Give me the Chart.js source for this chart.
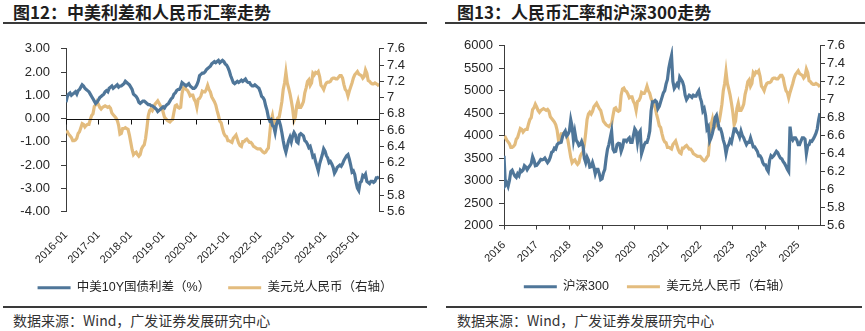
<!DOCTYPE html>
<html>
<head>
<meta charset="utf-8">
<script src="https://cdn.jsdelivr.net/npm/chart.js@4.4.1/dist/chart.umd.min.js"></script>
<style>
  body { margin: 0; background: #fff; width: 865px; height: 331px; position: relative; overflow: hidden; }
  .title { position: absolute; top: 1px; font: bold 17px "Noto Sans CJK SC", sans-serif; color: #1e1e1e; line-height: 22px; white-space: nowrap; }
  .rule { position: absolute; height: 2px; background: #3a3a3a; }
  .src { position: absolute; top: 310px; font: 14px "Noto Sans CJK SC", sans-serif; color: #333; line-height: 20px; white-space: nowrap; }
  .box { position: absolute; top: 30px; }
</style>
</head>
<body>
<div class="title" style="left:13px">图12：中美利差和人民币汇率走势</div>
<div class="rule" style="left:3px;width:424px;top:22px"></div>
<div class="box" style="left:0;width:430px;height:274px"><canvas id="spreadChart"></canvas></div>
<div class="rule" style="left:3px;width:424px;top:306px"></div>
<div class="src" style="left:13px">数据来源：Wind，广发证券发展研究中心</div>

<div class="title" style="left:457px">图13：人民币汇率和沪深300走势</div>
<div class="rule" style="left:445px;width:420px;top:22px"></div>
<div class="box" style="left:430px;width:435px;height:273px"><canvas id="csiChart"></canvas></div>
<div class="rule" style="left:446px;width:416px;top:306px"></div>
<div class="src" style="left:457px">数据来源：Wind，广发证券发展研究中心</div>

<script>
// Half-monthly observations, first point = 2016-01 (start), step = half a month
const startYear = 2016;
const endYear = 2025 + 8 / 12;
const yearTicks = [2016, 2017, 2018, 2019, 2020, 2021, 2022, 2023, 2024, 2025];

// 美元兑人民币
const usdcny = [
  6.57,6.58,6.55,6.53,6.51,6.47,6.47,6.48,6.50,6.56,6.58,6.63,6.68,6.67,6.64,6.66,6.67,6.67,6.73,6.78,6.80,6.89,6.91,6.95,
  6.92,6.88,6.86,6.88,6.89,6.90,6.89,6.88,6.89,6.87,6.81,6.79,6.77,6.75,6.72,6.66,6.55,6.56,6.62,6.62,6.63,6.62,6.61,6.54,
  6.45,6.36,6.30,6.32,6.33,6.30,6.28,6.30,6.37,6.40,6.42,6.50,6.63,6.78,6.84,6.86,6.84,6.87,6.92,6.94,6.96,6.93,6.90,6.88,
  6.82,6.76,6.74,6.72,6.71,6.70,6.72,6.73,6.82,6.90,6.91,6.88,6.87,6.88,7.05,7.12,7.13,7.10,7.09,7.06,7.02,7.03,7.03,6.98,
  6.95,6.88,6.98,6.99,7.02,7.08,7.07,7.07,7.10,7.15,7.10,7.07,7.01,6.98,6.95,6.91,6.84,6.78,6.71,6.69,6.62,6.56,6.53,6.52,
  6.47,6.47,6.46,6.45,6.50,6.52,6.54,6.49,6.44,6.41,6.40,6.46,6.46,6.48,6.49,6.47,6.45,6.45,6.43,6.40,6.39,6.38,6.37,6.37,
  6.37,6.35,6.33,6.32,6.33,6.36,6.38,6.55,6.72,6.78,6.68,6.70,6.72,6.75,6.76,6.85,6.95,7.10,7.18,7.31,7.18,7.12,7.05,6.96,
  6.86,6.72,6.76,6.90,6.96,6.88,6.88,6.91,6.95,7.06,7.12,7.20,7.22,7.15,7.18,7.30,7.28,7.31,7.30,7.32,7.26,7.15,7.13,7.10,
  7.15,7.18,7.19,7.19,7.20,7.23,7.24,7.24,7.23,7.23,7.25,7.27,7.27,7.24,7.16,7.10,7.08,7.02,7.08,7.13,7.18,7.24,7.28,7.30,
  7.32,7.29,7.28,7.27,7.24,7.26,7.34,7.30,7.21,7.20,7.18,7.17,7.17,7.18,7.17,7.16,7.14
];

// 中美10Y国债利差（%）
const spread = [
  0.70,0.95,1.05,1.10,1.00,1.05,1.10,1.15,1.05,1.20,1.25,1.35,1.45,1.40,1.30,1.25,1.20,1.15,1.05,0.95,0.85,0.75,0.65,0.70,
  0.80,0.90,0.95,1.00,1.05,1.15,1.20,1.15,1.30,1.35,1.40,1.30,1.35,1.40,1.45,1.35,1.40,1.40,1.45,1.50,1.60,1.55,1.50,1.45,
  1.35,1.25,1.05,1.00,0.95,0.85,0.70,0.65,0.70,0.75,0.75,0.70,0.65,0.60,0.60,0.55,0.55,0.50,0.45,0.40,0.30,0.35,0.40,0.45,
  0.50,0.45,0.55,0.60,0.65,0.75,0.85,0.90,1.05,1.10,1.20,1.25,1.25,1.35,1.55,1.50,1.45,1.40,1.45,1.50,1.40,1.35,1.30,1.30,
  1.35,1.45,1.60,1.85,1.90,1.95,1.95,2.00,2.10,2.15,2.20,2.25,2.35,2.40,2.45,2.40,2.45,2.50,2.40,2.45,2.50,2.45,2.35,2.30,
  2.20,2.05,1.85,1.70,1.55,1.50,1.55,1.60,1.55,1.60,1.65,1.60,1.65,1.70,1.60,1.55,1.55,1.45,1.40,1.40,1.45,1.40,1.35,1.30,
  1.15,0.95,0.90,0.80,0.55,0.35,0.05,-0.10,-0.05,-0.30,-0.35,-0.60,-0.25,-0.10,-0.10,-0.30,-0.60,-0.95,-1.25,-1.45,-1.20,-0.95,-0.80,-1.00,
  -0.75,-0.60,-0.70,-1.00,-1.05,-0.70,-0.65,-0.70,-0.75,-0.95,-1.00,-1.10,-1.25,-1.20,-1.40,-1.65,-1.60,-1.85,-2.05,-2.25,-1.95,-1.75,-1.55,-1.30,
  -1.40,-1.60,-1.70,-1.90,-1.85,-1.95,-2.10,-2.35,-2.25,-2.10,-2.05,-2.00,-2.05,-1.95,-1.80,-1.70,-1.60,-1.55,-1.75,-2.00,-2.30,-2.25,-2.40,-2.75,
  -3.00,-3.10,-2.75,-2.70,-2.45,-2.50,-2.40,-2.70,-2.75,-2.80,-2.70,-2.70,-2.75,-2.70,-2.55,-2.55,-2.50
];

// 沪深300
const csi300 = [
  3550,2900,2950,2870,3000,3200,3230,3160,3100,3070,3150,3110,3230,3200,3230,3330,3300,3240,3290,3330,3380,3530,3450,3330,
  3340,3380,3420,3470,3460,3470,3500,3450,3400,3440,3520,3630,3650,3720,3700,3800,3830,3840,3850,3980,4050,4100,3990,4030,
  4100,4350,4200,3900,4080,3900,3850,3780,3800,3870,3780,3500,3400,3520,3450,3300,3310,3400,3300,3150,3250,3250,3150,3020,
  3040,3170,3250,3500,3700,3800,3950,4100,3700,3640,3650,3800,3830,3820,3650,3740,3900,3900,3870,3920,3950,3850,3850,4000,
  4150,4100,3850,4050,4100,3600,3700,3800,3850,3850,3950,4100,4550,4750,4750,4780,4750,4600,4650,4750,4850,4950,5000,5150,
  5250,5500,5650,5780,5200,5050,5100,5150,5100,5300,5250,5200,5100,4900,4800,4850,4900,4880,4850,4900,4880,4880,4950,5000,
  4850,4750,4550,4600,4450,4150,4200,3880,3950,4050,4200,4400,4450,4300,4150,4150,4050,3900,3800,3600,3750,3800,3900,3850,
  4000,4150,4150,4080,4050,3970,4100,4000,3950,3870,3800,3850,3850,3950,3850,3750,3750,3700,3650,3550,3550,3500,3400,3350,
  3350,3250,3200,3450,3550,3520,3550,3600,3650,3620,3550,3500,3480,3420,3380,3320,3250,3200,4200,3950,3900,3950,3950,3900,
  3800,3800,3880,3950,3950,3920,3600,3780,3800,3880,3870,3920,3980,4050,4150,4350,4500
];

const blue = '#4f7699';
const orange = '#e3bc7e';
const axisColor = '#3c3c3c';
const textColor = '#262626';

Chart.defaults.font.family = '"Liberation Sans", "Noto Sans CJK SC", sans-serif';
Chart.defaults.color = textColor;

const toPoints = arr => arr.map((v, i) => ({ x: startYear + i / 24, y: v }));
const setYears = s => { s.ticks = yearTicks.map(v => ({ value: v })); };

// short tick marks hanging under the zero line (left chart only)
const zeroTicks = {
    id: 'zeroTicks',
    afterDatasetsDraw(chart) {
        const { ctx, scales } = chart;
        const y0 = Math.round(scales.y.getPixelForValue(0)) + 0.5;
        ctx.save();
        ctx.strokeStyle = '#111';
        ctx.lineWidth = 1;
        ctx.beginPath();
        ctx.moveTo(chart.chartArea.left, y0);
        ctx.lineTo(chart.chartArea.right, y0);
        yearTicks.forEach(v => {
            const x = Math.round(scales.x.getPixelForValue(v)) + 0.5;
            ctx.moveTo(x, y0);
            ctx.lineTo(x, y0 + 5);
        });
        ctx.stroke();
        ctx.restore();
    }
};

function lineSet(label, arr, color, yAxisID) {
    return {
        label: label,
        data: toPoints(arr),
        borderColor: color,
        backgroundColor: color,
        borderWidth: 3.2,
        pointRadius: 0,
        tension: 0,
        yAxisID: yAxisID
    };
}

const legendOpts = {
    position: 'bottom',
    labels: {
        boxWidth: 33,
        boxHeight: 3,
        padding: 18,
        color: textColor,
        font: { size: 12.5 },
        generateLabels: chart => Chart.defaults.plugins.legend.labels.generateLabels(chart).map(l => ({ ...l, lineWidth: 0 }))
    }
};

const yAxis = (pos, min, max, step, fmt, pad, width) => ({
    position: pos,
    min: min,
    max: max,
    afterFit: s => { s.width = width; },
    border: { display: true, color: axisColor, width: 1 },
    grid: { drawOnChartArea: false, drawTicks: true, tickLength: 5, color: axisColor },
    ticks: { stepSize: step, autoSkip: false, callback: fmt, padding: pad, color: textColor, font: { size: 13 } }
});

// Figure 12: spread vs USD/CNY
new Chart(document.getElementById('spreadChart'), {
    type: 'line',
    data: {
        datasets: [
            lineSet('中美10Y国债利差（%）', spread, blue, 'y'),
            lineSet('美元兑人民币（右轴）', usdcny, orange, 'y1')
        ]
    },
    options: {
        responsive: true,
        maintainAspectRatio: false,
        animation: false,
        layout: { padding: { top: 15.7, left: 0, right: 0, bottom: 0 } },
        scales: {
            x: {
                type: 'linear',
                min: startYear,
                max: endYear,
                afterBuildTicks: setYears,
                afterFit: s => { s.height = 52; },
                border: { display: false },
                grid: { display: false, drawTicks: false },
                ticks: { autoSkip: false, minRotation: 45, maxRotation: 45, padding: 17, color: textColor, font: { size: 11 }, callback: v => v + '-01' }
            },
            y: yAxis('left', -4, 3, 1, v => v.toFixed(2), 11, 66),
            y1: yAxis('right', 5.6, 7.6, 0.2, v => String(+v.toFixed(1)), 3, 51)
        },
        plugins: {
            legend: legendOpts,
            tooltip: { enabled: false }
        }
    },
    plugins: [zeroTicks]
});

// Figure 13: CSI 300 vs USD/CNY
new Chart(document.getElementById('csiChart'), {
    type: 'line',
    data: {
        datasets: [
            lineSet('沪深300', csi300, blue, 'y'),
            lineSet('美元兑人民币（右轴）', usdcny, orange, 'y1')
        ]
    },
    options: {
        responsive: true,
        maintainAspectRatio: false,
        animation: false,
        layout: { padding: { top: 15.7, left: 20, right: 0, bottom: 0 } },
        scales: {
            x: {
                type: 'linear',
                min: startYear,
                max: endYear,
                afterBuildTicks: setYears,
                afterFit: s => { s.height = 37; },
                border: { display: true, color: axisColor, width: 1 },
                grid: { display: true, drawOnChartArea: false, drawTicks: true, tickLength: 4, color: axisColor },
                ticks: { autoSkip: false, minRotation: 45, maxRotation: 45, padding: 9, color: textColor, font: { size: 11 }, callback: v => String(v) }
            },
            y: yAxis('left', 2000, 6000, 500, v => String(v), 6, 54),
            y1: yAxis('right', 5.6, 7.6, 0.2, v => String(+v.toFixed(1)), 2, 45)
        },
        plugins: {
            legend: legendOpts,
            tooltip: { enabled: false }
        }
    }
});
</script>
</body>
</html>
